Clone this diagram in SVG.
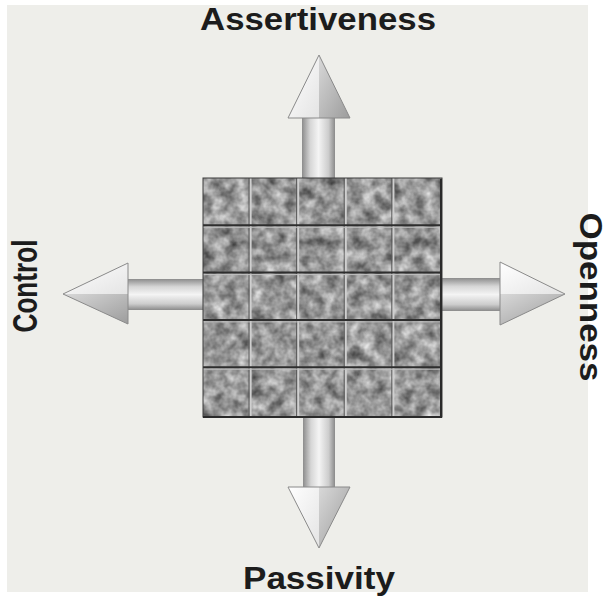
<svg xmlns="http://www.w3.org/2000/svg" width="610" height="597" viewBox="0 0 610 597">
  <style>
    .lbl { font-family: "Liberation Sans", Arial, sans-serif; font-weight: bold; font-size: 32px; fill: #1c1c1c; }
    .hl { stroke: #2e2e2e; stroke-width: 2; }
    .hl2 { stroke: #c0c0c0; stroke-width: 1; }
    .vl { stroke: #cfcfcf; stroke-width: 2; }
    .vl2 { stroke: #5a5a5a; stroke-width: 1; }
    .edge { stroke: #8a8a8a; stroke-width: 1; }
  </style>
  <defs>
    <filter id="granite" x="0" y="0" width="1" height="1" color-interpolation-filters="sRGB">
      <feTurbulence type="fractalNoise" baseFrequency="0.08" numOctaves="3" seed="7" result="n"/>
      <feColorMatrix in="n" type="matrix" values="0.8 0 0 0 0.19  0.8 0 0 0 0.19  0.8 0 0 0 0.19  0 0 0 0 1" result="g"/>
      <feGaussianBlur in="g" stdDeviation="0.6"/>
    </filter>
    <linearGradient id="shaftV" x1="0" y1="0" x2="1" y2="0">
      <stop offset="0" stop-color="#8c8c8c"/>
      <stop offset="0.25" stop-color="#d6d6d6"/>
      <stop offset="0.5" stop-color="#f4f4f4"/>
      <stop offset="0.8" stop-color="#cdcdcd"/>
      <stop offset="1" stop-color="#8a8a8a"/>
    </linearGradient>
    <linearGradient id="shaftH" x1="0" y1="0" x2="0" y2="1">
      <stop offset="0" stop-color="#8c8c8c"/>
      <stop offset="0.25" stop-color="#d6d6d6"/>
      <stop offset="0.5" stop-color="#f4f4f4"/>
      <stop offset="0.8" stop-color="#cdcdcd"/>
      <stop offset="1" stop-color="#8a8a8a"/>
    </linearGradient>
    <linearGradient id="headLight" x1="0" y1="0" x2="1" y2="1">
      <stop offset="0" stop-color="#ffffff"/>
      <stop offset="1" stop-color="#e4e4e4"/>
    </linearGradient>
    <linearGradient id="headDark" x1="0" y1="0" x2="1" y2="1">
      <stop offset="0" stop-color="#d8d8d8"/>
      <stop offset="1" stop-color="#9c9c9c"/>
    </linearGradient>
  </defs>

  <rect x="0" y="0" width="610" height="597" fill="#ffffff"/>
  <rect x="7" y="5" width="581" height="587" fill="#eeeeea"/>

  <g id="connectors">
    <g id="arrow-up">
      <rect x="302" y="117" width="33" height="62" fill="url(#shaftV)"/>
      <polygon points="319,55 288,118 319,118" fill="url(#headLight)"/>
      <polygon points="319,55 350,118 319,118" fill="url(#headDark)"/>
      <polygon points="319,55 350,118 288,118" fill="none" class="edge"/>
    </g>
    <g id="arrow-down">
      <rect x="303" y="416" width="32" height="72" fill="url(#shaftV)"/>
      <polygon points="319,548 288,487 319,487" fill="url(#headLight)"/>
      <polygon points="319,548 350,487 319,487" fill="url(#headDark)"/>
      <polygon points="319,548 350,487 288,487" fill="none" class="edge"/>
    </g>
    <g id="arrow-left">
      <rect x="127" y="279" width="77" height="31" fill="url(#shaftH)"/>
      <polygon points="63,294 128,263 128,294" fill="url(#headLight)"/>
      <polygon points="63,294 128,324 128,294" fill="url(#headDark)"/>
      <polygon points="63,294 128,263 128,324" fill="none" class="edge"/>
    </g>
    <g id="arrow-right">
      <rect x="440" y="278" width="61" height="33" fill="url(#shaftH)"/>
      <polygon points="565,294 500,262 500,294" fill="url(#headLight)"/>
      <polygon points="565,294 500,325 500,294" fill="url(#headDark)"/>
      <polygon points="565,294 500,262 500,325" fill="none" class="edge"/>
    </g>
  </g>

  <g id="grid">
    <rect x="203" y="178" width="239" height="239" fill="#8c8c8c" filter="url(#granite)"/>
    <g>
      <line class="vl" x1="250.6" y1="178" x2="250.6" y2="416"/>
      <line class="vl" x1="298.2" y1="178" x2="298.2" y2="416"/>
      <line class="vl" x1="345.8" y1="178" x2="345.8" y2="416"/>
      <line class="vl" x1="393.4" y1="178" x2="393.4" y2="416"/>
      <line class="vl2" x1="249" y1="178" x2="249" y2="416"/>
      <line class="vl2" x1="296.6" y1="178" x2="296.6" y2="416"/>
      <line class="vl2" x1="344.2" y1="178" x2="344.2" y2="416"/>
      <line class="vl2" x1="391.8" y1="178" x2="391.8" y2="416"/>
    </g>
    <g>
      <line class="hl" x1="203" y1="225.3" x2="442" y2="225.3"/>
      <line class="hl" x1="203" y1="272.6" x2="442" y2="272.6"/>
      <line class="hl" x1="203" y1="319.9" x2="442" y2="319.9"/>
      <line class="hl" x1="203" y1="367.2" x2="442" y2="367.2"/>
      <line class="hl2" x1="203" y1="227.3" x2="442" y2="227.3"/>
      <line class="hl2" x1="203" y1="274.6" x2="442" y2="274.6"/>
      <line class="hl2" x1="203" y1="321.9" x2="442" y2="321.9"/>
      <line class="hl2" x1="203" y1="369.2" x2="442" y2="369.2"/>
    </g>
    <rect x="203" y="178" width="239" height="239" fill="none" stroke="#3a3a3a" stroke-width="1"/>
    <line x1="441" y1="179" x2="441" y2="417" stroke="#2a2a2a" stroke-width="2"/>
    <line x1="203" y1="417" x2="442" y2="417" stroke="#2a2a2a" stroke-width="2"/>
  </g>

  <g id="label-assertiveness">
    <text class="lbl" x="318" y="30" text-anchor="middle" textLength="236" lengthAdjust="spacingAndGlyphs">Assertiveness</text>
  </g>
  <g id="label-passivity">
    <text class="lbl" x="319" y="589" text-anchor="middle" textLength="152" lengthAdjust="spacingAndGlyphs">Passivity</text>
  </g>
  <g id="label-control">
    <text class="lbl" style="font-size:35px" transform="translate(37,286) rotate(-90)" x="0" y="0" text-anchor="middle" textLength="93" lengthAdjust="spacingAndGlyphs">Control</text>
  </g>
  <g id="label-openness">
    <text class="lbl" transform="translate(580,297) rotate(90)" x="0" y="0" text-anchor="middle" textLength="169" lengthAdjust="spacingAndGlyphs">Openness</text>
  </g>
</svg>
